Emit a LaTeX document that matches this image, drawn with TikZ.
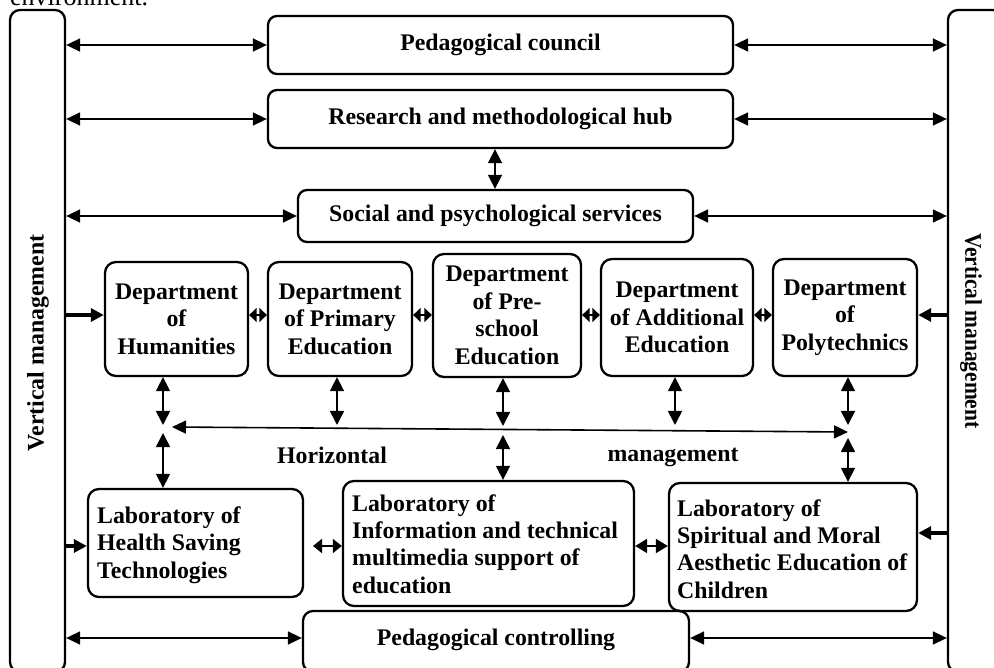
\documentclass[tikz,border=0pt]{standalone}
\usepackage{fontspec}
\setmainfont{Liberation Serif}
\usetikzlibrary{arrows.meta}
\tikzset{
  bx/.style={draw, line width=2.3pt, rounded corners=11pt, inner sep=0pt,
    font=\fontsize{23.8}{27.5}\selectfont\bfseries, align=center},
  ltxt/.style={anchor=west, inner sep=0pt, align=left, font=\fontsize{23.8}{27.3}\selectfont\bfseries},
  lbl/.style={inner sep=0pt, font=\fontsize{23.8}{27.5}\selectfont\bfseries},
  darr/.style={line width=1.6pt, {Triangle[length=14pt,width=13pt]}-{Triangle[length=14pt,width=13pt]}},
  sarr/.style={line width=1.8pt, {Triangle[length=7.5pt,width=14pt]}-{Triangle[length=7.5pt,width=14pt]}},
  varr/.style={line width=1.6pt, {Triangle[length=14pt,width=14pt]}-{Triangle[length=14pt,width=14pt]}},
  tarr/.style={line width=3.2pt, -{Triangle[length=13pt,width=13pt]}}
}
\begin{document}
\begin{tikzpicture}[x=1pt,y=-1pt]
\useasboundingbox (0,0) rectangle (994,668);
% partial text cut at top
\node[anchor=base west, inner sep=0pt, font=\fontsize{26}{30}\selectfont] (env) at (10,6) {environment.};
% side boxes
\node[draw, line width=2.3pt, rounded corners=10pt, minimum width=55pt, minimum height=662pt, inner sep=0pt] (lvbox) at (37.5,341) {};
\node[draw, line width=2.3pt, rounded corners=10pt, minimum width=55pt, minimum height=662pt, inner sep=0pt] (rvbox) at (975.5,341) {};
\node[lbl, rotate=90] (lvtext) at (38,343) {Vertical management};
\node[lbl, rotate=-90, xscale=0.9] (rvtext) at (971,331) {Vertical management};
% top boxes
\node[bx, rounded corners=9pt, minimum width=465pt, minimum height=58pt] (council) at (500.5,45) {Pedagogical council};
\node[bx, rounded corners=9pt, minimum width=465pt, minimum height=58pt] (hub) at (500.5,119) {Research and methodological hub};
\node[bx, rounded corners=9pt, minimum width=395pt, minimum height=52pt] (social) at (495.5,216) {Social and psychological services};
% departments
\node[bx, minimum width=143pt, minimum height=114pt] (hum) at (176.5,319) {Department\\of\\Humanities};
\node[bx, minimum width=144pt, minimum height=114pt] (prim) at (340,319) {Department\\of Primary\\Education};
\node[bx, minimum width=148pt, minimum height=123pt] (pre) at (507,315.5) {Department\\of Pre-\\school\\Education};
\node[bx, minimum width=152pt, minimum height=117pt] (add) at (677,317.5) {Department\\of Additional\\Education};
\node[bx, minimum width=144pt, minimum height=117pt] (poly) at (845,317.5) {Department\\of\\Polytechnics};
% laboratories
\node[bx, minimum width=215pt, minimum height=108pt] (health) at (195.5,543) {};
\node[ltxt] (healthtext) at (97,545) {Laboratory of\\Health Saving\\Technologies};
\node[bx, minimum width=291pt, minimum height=125pt] (info) at (488.5,543.5) {};
\node[ltxt] (infotext) at (352,544) {Laboratory of\\Information and technical\\multimedia support of\\education};
\node[bx, minimum width=248pt, minimum height=128pt] (spirit) at (793,547) {};
\node[ltxt] (spirittext) at (677,549) {Laboratory of\\Spiritual and Moral\\Aesthetic Education of\\Children};
% controlling
\node[bx, rounded corners=10pt, minimum width=386pt, minimum height=61pt] (ctrl) at (496,641.5) {};
\node[lbl] (ctrltext) at (496,640) {Pedagogical controlling};
% labels
\node[lbl] (horiz) at (332,455) {Horizontal};
\node[lbl] (mgmt) at (673,457) {management};
% helper coordinates
\coordinate (row) at (0,315);
\coordinate (labrow) at (0,546);
\coordinate (sprow) at (0,533);
\coordinate (ctrow) at (0,638);
\coordinate (cA) at (163,425);
\coordinate (cA2) at (163,433);
\coordinate (cB) at (337,425);
\coordinate (cC) at (503,426);
\coordinate (cC2) at (503,435);
\coordinate (cD) at (675,425);
\coordinate (cE) at (848,425);
\coordinate (cE2) at (848,438);
\coordinate (hl) at (172,427);
\coordinate (hr) at (848,432);
\coordinate (hs) at (495,0);
\coordinate (hi) at (313,546);
% top connectors
\draw[darr] (lvbox.east |- council.west) -- (council.west);
\draw[darr] (council.east) -- (rvbox.west |- council.east);
\draw[darr] (lvbox.east |- hub.west) -- (hub.west);
\draw[darr] (hub.east) -- (rvbox.west |- hub.east);
\draw[darr] (lvbox.east |- social.west) -- (social.west);
\draw[darr] (social.east) -- (rvbox.west |- social.east);
\draw[varr] (hs |- hub.south) -- (hs |- social.north);
% department row
\draw[tarr] (lvbox.east |- row) -- (hum.west |- row);
\draw[tarr] (rvbox.west |- row) -- (poly.east |- row);
\draw[sarr] (hum.east |- row) -- (prim.west |- row);
\draw[sarr] (prim.east |- row) -- (pre.west |- row);
\draw[sarr] (pre.east |- row) -- (add.west |- row);
\draw[sarr] (add.east |- row) -- (poly.west |- row);
% vertical connectors
\draw[varr] (cA |- hum.south) -- (cA);
\draw[varr] (cB |- prim.south) -- (cB);
\draw[varr] (cC |- pre.south) -- (cC);
\draw[varr] (cD |- add.south) -- (cD);
\draw[varr] (cE |- poly.south) -- (cE);
\draw[darr] (hl) -- (hr);
\draw[varr] (cA2) -- (cA2 |- health.north);
\draw[varr] (cC2) -- (cC2 |- info.north);
\draw[varr] (cE2) -- (cE2 |- spirit.north);
% laboratories row
\draw[tarr] (lvbox.east |- labrow) -- (health.west |- labrow);
\draw[tarr] (rvbox.west |- sprow) -- (spirit.east |- sprow);
\draw[sarr, {Triangle[length=9pt,width=14pt]}-{Triangle[length=9pt,width=14pt]}] (hi) -- (info.west |- labrow);
\draw[darr, {Triangle[length=12pt,width=14pt]}-{Triangle[length=12pt,width=14pt]}] (info.east |- labrow) -- (spirit.west |- labrow);
% controlling
\draw[darr] (lvbox.east |- ctrow) -- (ctrl.west |- ctrow);
\draw[darr] (ctrl.east |- ctrow) -- (rvbox.west |- ctrow);
\end{tikzpicture}
\end{document}
